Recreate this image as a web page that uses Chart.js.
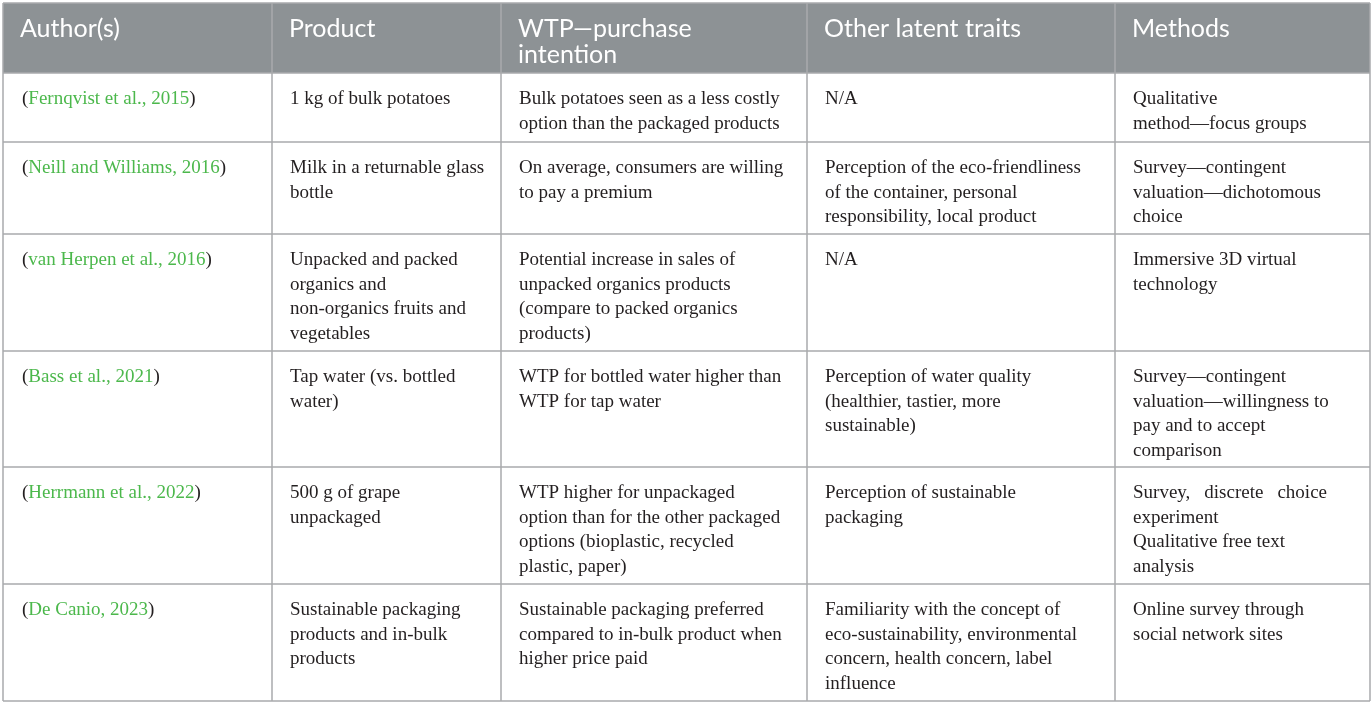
<!DOCTYPE html>
<html>
<head>
<meta charset="utf-8">
<title>WTP studies table</title>
<script src="https://cdn.jsdelivr.net/npm/chart.js@4.4.0/dist/chart.umd.min.js"></script>
<style>
  html, body { margin: 0; padding: 0; background: #fff; }
  #wrap { width: 1372px; height: 704px; }
</style>
</head>
<body>
<div id="wrap"><canvas id="studyTable"></canvas></div>
<script>
// table content, one array per column
var headers = ["Author(s)", "Product", "WTP\u2014purchase\nintention", "Other latent traits", "Methods"];
var authors = [
    "Fernqvist et al., 2015",
    "Neill and Williams, 2016",
    "van Herpen et al., 2016",
    "Bass et al., 2021",
    "Herrmann et al., 2022",
    "De Canio, 2023",
];
var products = [
    "1 kg of bulk potatoes",
    "Milk in a returnable glass\nbottle",
    "Unpacked and packed\norganics and\nnon-organics fruits and\nvegetables",
    "Tap water (vs. bottled\nwater)",
    "500 g of grape\nunpackaged",
    "Sustainable packaging\nproducts and in-bulk\nproducts",
];
var wtp = [
    "Bulk potatoes seen as a less costly\noption than the packaged products",
    "On average, consumers are willing\nto pay a premium",
    "Potential increase in sales of\nunpacked organics products\n(compare to packed organics\nproducts)",
    "WTP for bottled water higher than\nWTP for tap water",
    "WTP higher for unpackaged\noption than for the other packaged\noptions (bioplastic, recycled\nplastic, paper)",
    "Sustainable packaging preferred\ncompared to in-bulk product when\nhigher price paid",
];
var traits = [
    "N/A",
    "Perception of the eco-friendliness\nof the container, personal\nresponsibility, local product",
    "N/A",
    "Perception of water quality\n(healthier, tastier, more\nsustainable)",
    "Perception of sustainable\npackaging",
    "Familiarity with the concept of\neco-sustainability, environmental\nconcern, health concern, label\ninfluence",
];
var methods = [
    "Qualitative\nmethod\u2014focus groups",
    "Survey\u2014contingent\nvaluation\u2014dichotomous\nchoice",
    "Immersive 3D virtual\ntechnology",
    "Survey\u2014contingent\nvaluation\u2014willingness to\npay and to accept\ncomparison",
    "Survey, discrete choice\nexperiment\nQualitative free text\nanalysis",
    "Online survey through\nsocial network sites",
];

// layout (in scale units, 1 unit = 1 px)
var colEdges = [3, 272, 501, 807, 1115, 1370];
var rowEdges = [3, 73, 142, 234, 351, 467, 584, 701];
var justified = [{ row: 4, col: 4, line: 0, width: 194 }];

var HEADER_BG = "#8d9295";
var GRID = "#a9abad";
var TEXT = "#231f20";
var LINK = "#4cb84c";
var HEADER_FONT = "25px Lato";
var BODY_FONT = "19px 'Liberation Serif'";

var tablePlugin = {
    id: "tablePlugin",
    afterDraw: function (chart) {
        var c = chart.ctx;
        var xs = chart.scales.x;
        var ys = chart.scales.y;
        var px = function (v) { return xs.getPixelForValue(v); };
        var py = function (v) { return ys.getPixelForValue(v); };
        var left = px(colEdges[0]), right = px(colEdges[colEdges.length - 1]);
        var pad = 18;

        c.save();
        // header band
        c.fillStyle = HEADER_BG;
        c.fillRect(left, py(rowEdges[0]), right - left, py(rowEdges[1]) - py(rowEdges[0]));

        // grid
        c.strokeStyle = GRID;
        c.lineWidth = 1.5;
        c.beginPath();
        rowEdges.forEach(function (r) {
            c.moveTo(left, py(r));
            c.lineTo(right, py(r));
        });
        colEdges.forEach(function (e) {
            c.moveTo(px(e), py(rowEdges[0]));
            c.lineTo(px(e), py(rowEdges[rowEdges.length - 1]));
        });
        c.stroke();

        c.textBaseline = "alphabetic";
        c.textAlign = "left";

        // header text
        c.fillStyle = "#ffffff";
        c.font = HEADER_FONT;
        headers.forEach(function (h, i) {
            h.split("\n").forEach(function (ln, k) {
                c.fillText(ln, px(colEdges[i]) + pad - 1, py(rowEdges[0]) + 34 + k * 26);
            });
        });

        // body
        c.font = BODY_FONT;
        var cols = [null, products, wtp, traits, methods];
        for (var r = 0; r < authors.length; r++) {
            var top = py(rowEdges[r + 1]) + 31;
            // author cell: black brackets, green citation
            var ax = px(colEdges[0]) + pad + 1;
            c.fillStyle = TEXT;
            c.fillText("(", ax, top);
            ax += c.measureText("(").width;
            c.fillStyle = LINK;
            c.fillText(authors[r], ax, top);
            ax += c.measureText(authors[r]).width;
            c.fillStyle = TEXT;
            c.fillText(")", ax, top);

            for (var j = 1; j < cols.length; j++) {
                var x0 = px(colEdges[j]) + pad;
                cols[j][r].split("\n").forEach(function (ln, k) {
                    var y = top + k * 24.5;
                    var just = justified.filter(function (q) {
                        return q.row === r && q.col === j && q.line === k;
                    })[0];
                    if (just) {
                        var words = ln.split(" ");
                        var wsum = 0;
                        words.forEach(function (w) { wsum += c.measureText(w).width; });
                        var gap = (just.width - wsum) / (words.length - 1);
                        var wx = x0;
                        words.forEach(function (w) {
                            c.fillText(w, wx, y);
                            wx += c.measureText(w).width + gap;
                        });
                    } else {
                        c.fillText(ln, x0, y);
                    }
                });
            }
        }
        c.restore();
    }
};

function build() {
    var ctx = document.getElementById("studyTable").getContext("2d");
    new Chart(ctx, {
        type: "scatter",
        data: { datasets: [{ data: [] }] },
        options: {
            responsive: true,
            maintainAspectRatio: false,
            animation: false,
            devicePixelRatio: 1,
            layout: { padding: 0 },
            events: [],
            plugins: { legend: { display: false }, tooltip: { enabled: false } },
            scales: {
                x: { type: "linear", min: 0, max: 1372, display: false },
                y: { type: "linear", min: 0, max: 704, reverse: true, display: false },
            },
        },
        plugins: [tablePlugin],
    });
}

Promise.all([
    document.fonts.load(HEADER_FONT),
    document.fonts.load(BODY_FONT),
]).then(build, build);
</script>
</body>
</html>
